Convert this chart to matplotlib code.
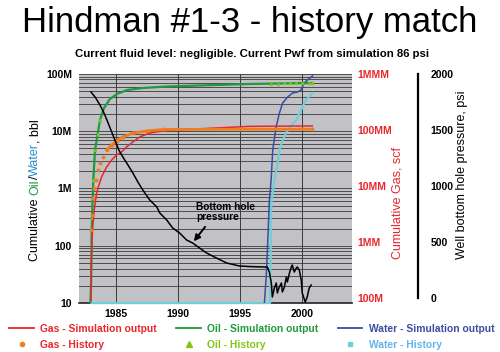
import matplotlib
matplotlib.use('Agg')
import matplotlib.pyplot as plt
from matplotlib.ticker import FixedLocator, NullFormatter, FixedFormatter
from matplotlib.lines import Line2D

plt.rcParams['font.family'] = ['Liberation Sans', 'DejaVu Sans']

# Oil - simulation output (bbl, left axis)
oil_sim_year = [1982.92, 1982.98, 1983.02, 1983.09, 1983.15, 1983.29, 1983.69, 1984.01,
                1984.49, 1985.05, 1985.86, 1987.14, 1989.07, 1991.72, 1995.73, 2000.80]
oil_sim = [10, 24, 183, 546, 1380, 4640, 15600, 25300,
           36400, 44600, 52400, 56800, 60300, 62800, 66800, 69500]

# Oil - history
oil_hist_year = [1983.05, 1983.15, 1983.29, 1983.5, 1983.69,
                 1997.5, 1998.0, 1998.5, 1999.0, 1999.5, 2000.0, 2000.5, 2000.8]
oil_hist = [300, 1380, 4640, 9000, 15600,
            67500, 67800, 68100, 68400, 68700, 69000, 69300, 69500]

# Gas - simulation output (scf, right axis)
gas_sim_year = [1982.96, 1983.00, 1983.09, 1983.20, 1983.37, 1983.55, 1983.82, 1984.22,
                1984.63, 1985.03, 1985.43, 1985.83, 1986.34, 1986.90, 1987.70, 1988.75,
                1989.87, 1995.73, 2000.80]
gas_sim = [9.2e4, 4.8e5, 1.64e6, 3.29e6, 6.37e6, 9.6e6, 1.45e7, 2.18e7,
           2.91e7, 3.58e7, 4.05e7, 4.97e7, 6.1e7, 7.5e7, 8.84e7, 9.6e7,
           1.0e8, 1.16e8, 1.18e8]

# Gas - history
gas_hist_year = [1983.00, 1983.01, 1983.15, 1983.23, 1983.37, 1983.55, 1983.69, 1983.90,
                 1984.22, 1984.63, 1985.03, 1985.53, 1986.34, 1987.46, 1988.75, 1995.0, 2000.80]
gas_hist = [1.64e6, 3.03e6, 6.1e6, 9.2e6, 1.28e7, 1.93e7, 2.58e7, 3.3e7,
            4.4e7, 5.4e7, 6.4e7, 7.5e7, 8.8e7, 9.6e7, 1.02e8, 1.03e8, 1.03e8]

# Water - simulation output (bbl, left axis)
water_sim_year = [1996.94, 1997.10, 1997.18, 1997.34, 1997.48, 1997.61, 1997.88,
                  1998.15, 1998.41, 1998.81, 1999.21, 1999.61, 1999.89, 2000.15,
                  2000.42, 2000.82]
water_sim = [10, 32, 82, 615, 1380, 4640, 11750,
             20700, 31000, 39500, 46400, 48300, 52400, 69500,
             78500, 92300]

# Water - history
water_hist_year = [1983.0, 1985.0, 1990.0, 1995.0, 1997.4, 1997.48, 1997.49, 1997.50,
                   1997.74, 1998.01, 1998.14, 1998.41, 1998.68, 1998.94, 1999.49,
                   1999.89, 2000.15, 2000.42, 2000.82]
water_hist = [10, 10, 10, 10, 10, 254, 503, 546,
              1380, 2750, 4640, 6950, 9220, 11300, 15600,
              23400, 31000, 37900, 46400]

# Well bottom hole pressure (psi)
bhp_year = [1982.96, 1983.29, 1983.69, 1984.01, 1984.25, 1984.57, 1984.89, 1985.21,
            1985.53, 1985.94, 1986.34, 1986.74, 1987.14, 1987.70, 1988.27, 1988.51,
            1989.07, 1989.55, 1990.11, 1990.67, 1991.16, 1991.72, 1992.28, 1993.08,
            1993.89, 1994.93, 1995.73, 1996.94, 1997.18, 1997.34, 1997.50, 1997.58,
            1997.74, 1997.90, 1997.98, 1998.14, 1998.31, 1998.39, 1998.55, 1998.71,
            1998.79, 1998.96, 1999.11, 1999.19, 1999.35, 1999.51, 1999.59, 1999.75,
            1999.91, 1999.99, 2000.23, 2000.39, 2000.55, 2000.71]
bhp = [1839, 1795, 1723, 1652, 1589, 1500, 1411, 1321,
       1259, 1188, 1116, 1036, 964, 875, 813, 759,
       696, 625, 580, 518, 491, 446, 402, 357,
       313, 286, 281, 277, 277, 232, 134, 9,
       89, 134, 45, 98, 134, 54, 98, 188,
       143, 223, 277, 295, 232, 268, 277, 250,
       161, 45, -36, 9, 89, 116]

left_ticks = [10, 100, 1e3, 1e4, 1e5]
left_labels = ['10', '100', '1M', '10M', '100M']
gas_ticks = [1e5, 1e6, 1e7, 1e8, 1e9]
gas_labels = ['100M', '1MM', '10MM', '100MM', '1MMM']
p_ticks = [0, 500, 1000, 1500, 2000]
year_ticks = [1985, 1990, 1995, 2000]

RED = '#e8262c'
ORANGE = '#ee7d22'
GREEN = '#1f9a3c'
LIME = '#84c51c'
BLUE = '#3b4da0'
CYAN = '#6fcfd8'
WATER_TXT = '#62b4ea'


def main():
    fig = plt.figure(figsize=(5, 3.52), dpi=100)
    fig.text(0.5, 0.937, 'Hindman #1-3 - history match', ha='center', va='center',
             fontsize=25)
    fig.text(0.505, 0.848, 'Current fluid level: negligible. Current Pwf from simulation 86 psi',
             ha='center', va='center', fontsize=8.2, fontweight='bold')

    ax = fig.add_axes([0.158, 0.139, 0.546, 0.651])
    ax.set_facecolor('#c2c2c6')
    ax.set_yscale('log')
    ax.set_ylim(10, 1e5)
    ax.set_xlim(1982, 2004)
    ax.yaxis.set_major_locator(FixedLocator(left_ticks))
    ax.yaxis.set_major_formatter(FixedFormatter(left_labels))
    ax.yaxis.set_minor_formatter(NullFormatter())
    ax.set_xticks(year_ticks)
    ax.tick_params(which='both', length=0)
    ax.tick_params(axis='y', pad=5)
    ax.tick_params(axis='x', pad=4)
    for lab in ax.get_xticklabels() + ax.get_yticklabels():
        lab.set_fontsize(7.5)
        lab.set_fontweight('bold')
    ax.grid(True, which='both', axis='y', color='#3a3a3a', lw=0.6)
    ax.grid(True, which='major', axis='x', color='#3a3a3a', lw=0.7)
    for s in ['left', 'top', 'right']:
        ax.spines[s].set_visible(False)
    ax.spines['bottom'].set_color('#222222')
    ax.spines['bottom'].set_linewidth(1.2)

    ax.plot(water_hist_year, water_hist, color=CYAN, lw=1.6, clip_on=False, zorder=4)
    ax.plot(water_sim_year, water_sim, color=BLUE, lw=1.1, zorder=5)
    ax.plot(oil_sim_year, oil_sim, color=GREEN, lw=1.6, zorder=5)
    ax.plot(oil_hist_year, oil_hist, '^', color=LIME, ms=1.6, zorder=6)

    axg = ax.twinx()
    axg.set_yscale('log')
    axg.set_ylim(8.14e4, 1e9)
    axg.yaxis.set_major_locator(FixedLocator(gas_ticks))
    axg.yaxis.set_major_formatter(FixedFormatter(gas_labels))
    axg.yaxis.set_minor_formatter(NullFormatter())
    axg.tick_params(which='both', length=0, pad=4, labelcolor=RED, labelsize=7.5)
    for lab in axg.get_yticklabels():
        lab.set_fontweight('bold')
    for s in axg.spines.values():
        s.set_visible(False)
    axg.plot(gas_sim_year, gas_sim, color=RED, lw=1.1, zorder=3)
    axg.plot(gas_hist_year, gas_hist, 'o', color=ORANGE, ms=1.8, zorder=4)
    axg.plot(gas_hist_year[8:], gas_hist[8:], '-', color=ORANGE, lw=2.0, zorder=4)

    axp = ax.twinx()
    axp.set_ylim(-45, 2000)
    axp.set_yticks(p_ticks)
    for s in ['left', 'top', 'bottom']:
        axp.spines[s].set_visible(False)
    axp.spines['right'].set_position(('axes', 1.242))
    axp.spines['right'].set_bounds(0, 2000)
    axp.spines['right'].set_linewidth(1.6)
    axp.tick_params(length=0, pad=9, labelsize=7.5)
    for lab in axp.get_yticklabels():
        lab.set_fontweight('bold')
    axp.plot(bhp_year, bhp, color='black', lw=1.1, zorder=5)

    axp.text(1991.45, 857, 'Bottom hole\npressure', fontsize=7.3, fontweight='bold',
             va='top', ha='left', linespacing=1.05)
    axp.annotate('', xy=(1991.12, 486), xytext=(1992.3, 655),
                 arrowprops=dict(arrowstyle='-|>', color='black', lw=1.4,
                                 mutation_scale=9))

    # axis titles
    fig.text(398 / 500, 1 - 203 / 352, 'Cumulative Gas, scf', color=RED, rotation=90,
             ha='center', va='center', fontsize=9)
    fig.text(462 / 500, 1 - 175 / 352, 'Well bottom hole pressure, psi', rotation=90,
             ha='center', va='center', fontsize=9)

    parts = [('Cumulative ', 'black'), ('Oil', GREEN), ('/', 'black'),
             ('Water', '#2a8fd0'), (', bbl', 'black')]
    renderer = fig.canvas.get_renderer()
    texts = []
    for s, c in parts:
        t = fig.text(0, 0, s, color=c, rotation=90, ha='center', va='bottom', fontsize=9)
        texts.append(t)
    heights = [t.get_window_extent(renderer).height for t in texts]
    total = sum(heights)
    y0 = (352 - 190) - total / 2
    for t, h in zip(texts, heights):
        t.set_position((35 / 500, y0 / 352))
        y0 += h

    handles = [
        Line2D([], [], color=RED, lw=1.3),
        Line2D([], [], color=ORANGE, marker='o', ls='none', ms=3),
        Line2D([], [], color=GREEN, lw=1.3),
        Line2D([], [], color=LIME, marker='^', ls='none', ms=4),
        Line2D([], [], color=BLUE, lw=1.3),
        Line2D([], [], color=CYAN, marker='s', ls='none', ms=3),
    ]
    labels = ['Gas - Simulation output', 'Gas - History',
              'Oil - Simulation output', 'Oil - History',
              'Water - Simulation output', 'Water - History']
    colors = [RED, RED, GREEN, LIME, BLUE, WATER_TXT]
    leg = fig.legend(handles, labels, ncol=3, loc='lower left',
                     bbox_to_anchor=(0.0, -0.02), frameon=False,
                     prop={'size': 7.4, 'weight': 'bold'}, handlelength=2.4,
                     columnspacing=1.9, handletextpad=0.6, labelspacing=0.6)
    for t, c in zip(leg.get_texts(), colors):
        t.set_color(c)

    fig.savefig('out.png', dpi=100)


if __name__ == '__main__':
    main()
